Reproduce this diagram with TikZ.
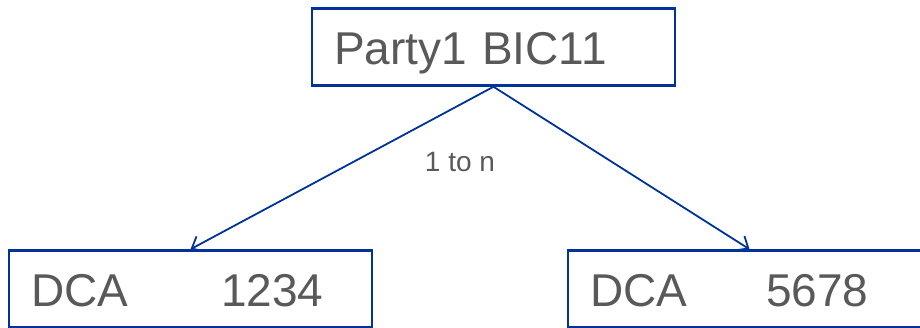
\documentclass[tikz,border=0pt]{standalone}
\usepackage{fontspec}
\setmainfont{Liberation Sans}
\usepackage{tikz}
\usetikzlibrary{positioning,arrows.meta}
\definecolor{linkblue}{RGB}{0,51,153}
\definecolor{textgrey}{RGB}{89,89,89}
\tikzset{
	entity/.style={rectangle,draw=linkblue,line width=2.5pt,fill=white,text=textgrey,
	minimum width=363pt,minimum height=77pt,inner xsep=22pt,text width=319pt,align=left,
	text height=40pt,text depth=4pt,font=\fontsize{46}{55}\selectfont},
	link/.style={->,>={Straight Barb[length=10pt,width=17pt]},color=linkblue,line width=1.8pt},
	linklabel/.style={text=textgrey,font=\fontsize{28}{34}\selectfont}
}
\begin{document}
\begin{tikzpicture}[x=1pt,y=-1pt]
	\useasboundingbox (0,0) rectangle (920,328);

	%%Party box
	\node[entity] (party) at (493.5,47) {Party1 BIC11};

	%%DCA boxes
	\node[entity] (dca1) at (190.5,289) {DCA\hspace{93pt}1234};
	\node[entity] (dca2) at (749.5,289) {DCA\hspace{79pt}5678};

	%%%%%% EDGES
	\draw[link] (party.south) -- (dca1.north);
	\draw[link] (party.south) -- (dca2.north);
	\node[linklabel] (card) at (460,162) {1 to n};

\end{tikzpicture}
\end{document}
